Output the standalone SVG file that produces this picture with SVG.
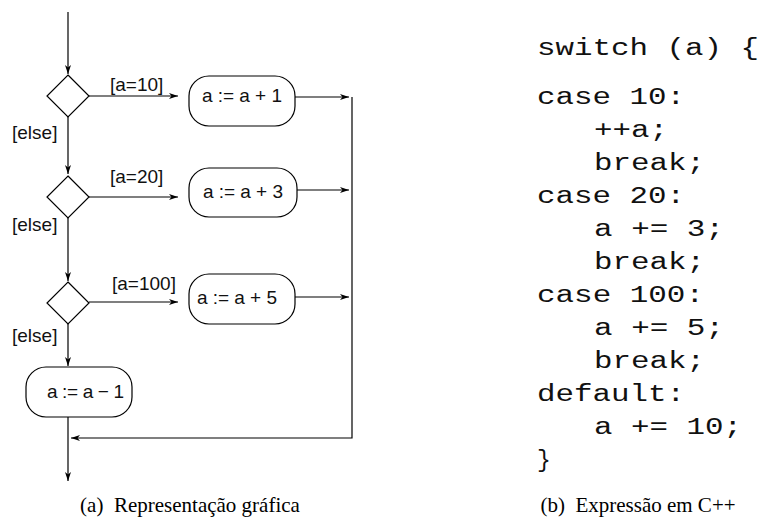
<svg xmlns="http://www.w3.org/2000/svg" width="765" height="521" viewBox="0 0 765 521">
<style>
.ln{fill:none;stroke:#000;stroke-width:1.2}
.nd{fill:#fff;stroke:#000;stroke-width:1.2}
.lb{font-family:"Liberation Sans",Arial,sans-serif;font-size:19px;fill:#111}
.code{font-family:"Liberation Mono","DejaVu Sans Mono",monospace;font-size:23px;fill:#111}
.cap{font-family:"Liberation Serif","Times New Roman",serif;font-size:21px;fill:#000}
</style>
<defs>
<marker id="ah" markerUnits="userSpaceOnUse" markerWidth="10" markerHeight="8" refX="9" refY="3" orient="auto">
<path d="M0,0 L9,3 L0,6 L2.5,3 Z" fill="#000"/>
</marker>
</defs>
<rect width="765" height="521" fill="#fff"/>
<g id="connectors">
<path class="ln" d="M68,12 V74" marker-end="url(#ah)"/>
<path class="ln" d="M89,96 H178" marker-end="url(#ah)"/>
<path class="ln" d="M68,117 V174" marker-end="url(#ah)"/>
<path class="ln" d="M89,197 H178" marker-end="url(#ah)"/>
<path class="ln" d="M68,217 V281" marker-end="url(#ah)"/>
<path class="ln" d="M89,302 H178" marker-end="url(#ah)"/>
<path class="ln" d="M68,323 V366" marker-end="url(#ah)"/>
<path class="ln" d="M295,97 H349" marker-end="url(#ah)"/>
<path class="ln" d="M297,190 H349" marker-end="url(#ah)"/>
<path class="ln" d="M295,297 H349" marker-end="url(#ah)"/>
<path class="ln" d="M352,97 V438 H71" marker-end="url(#ah)"/>
<path class="ln" d="M68,417 V481" marker-end="url(#ah)"/>
<text class="lb" x="110" y="91">[a=10]</text>
<text class="lb" x="110" y="183">[a=20]</text>
<text class="lb" x="112" y="290">[a=100]</text>
<text class="lb" x="12" y="139">[else]</text>
<text class="lb" x="12" y="231">[else]</text>
<text class="lb" x="12" y="342">[else]</text>
</g>
<g id="d1"><path class="nd" d="M68,75 L89,96 L68,117 L47,96 Z"/></g>
<g id="d2"><path class="nd" d="M68,176 L89,197 L68,218 L47,197 Z"/></g>
<g id="d3"><path class="nd" d="M68,282 L89,303 L68,324 L47,303 Z"/></g>
<g id="b1"><rect class="nd" x="189" y="76" width="106" height="50" rx="20" ry="20"/><text class="lb" x="202" y="102" textLength="80">a := a + 1</text></g>
<g id="b2"><rect class="nd" x="189" y="168" width="108" height="49" rx="20" ry="20"/><text class="lb" x="203" y="198" textLength="80">a := a + 3</text></g>
<g id="b3"><rect class="nd" x="189" y="274" width="106" height="50" rx="20" ry="20"/><text class="lb" x="197" y="304" textLength="80">a := a + 5</text></g>
<g id="b4"><rect class="nd" x="26" y="367" width="106" height="50" rx="20" ry="20"/><text class="lb" x="47" y="398" textLength="77">a := a − 1</text></g>
<g id="code">
<text class="code" x="537" y="55" textLength="222" lengthAdjust="spacingAndGlyphs">switch (a) {</text>
<text class="code" x="537" y="104" textLength="148" lengthAdjust="spacingAndGlyphs">case 10:</text>
<text class="code" x="594" y="137" textLength="74" lengthAdjust="spacingAndGlyphs">++a;</text>
<text class="code" x="594" y="170" textLength="111" lengthAdjust="spacingAndGlyphs">break;</text>
<text class="code" x="537" y="203" textLength="148" lengthAdjust="spacingAndGlyphs">case 20:</text>
<text class="code" x="594" y="236" textLength="130" lengthAdjust="spacingAndGlyphs">a += 3;</text>
<text class="code" x="594" y="269" textLength="111" lengthAdjust="spacingAndGlyphs">break;</text>
<text class="code" x="537" y="302" textLength="167" lengthAdjust="spacingAndGlyphs">case 100:</text>
<text class="code" x="594" y="335" textLength="130" lengthAdjust="spacingAndGlyphs">a += 5;</text>
<text class="code" x="594" y="368" textLength="111" lengthAdjust="spacingAndGlyphs">break;</text>
<text class="code" x="537" y="401" textLength="148" lengthAdjust="spacingAndGlyphs">default:</text>
<text class="code" x="594" y="434" textLength="148" lengthAdjust="spacingAndGlyphs">a += 10;</text>
<text class="code" x="537" y="467">}</text>
</g>
<g id="captions">
<text class="cap" x="190" y="512" text-anchor="middle" xml:space="preserve">(a)  Representação gráfica</text>
<text class="cap" x="638" y="512" text-anchor="middle" xml:space="preserve">(b)  Expressão em C++</text>
</g>
</svg>
